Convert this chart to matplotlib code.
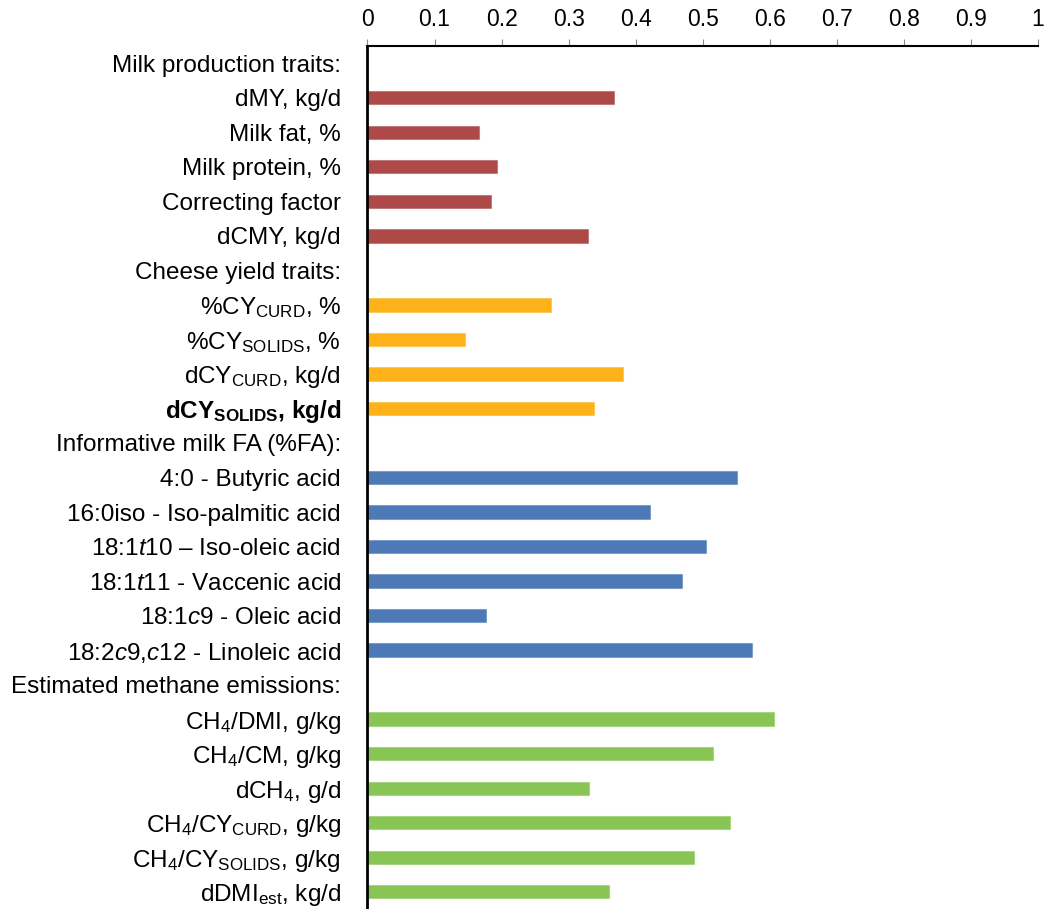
import numpy as np
import matplotlib
matplotlib.use("Agg")
import matplotlib.pyplot as plt

plt.rcParams["font.family"] = ["Liberation Sans", "DejaVu Sans"]
plt.rcParams["mathtext.fontset"] = "custom"
plt.rcParams["mathtext.rm"] = "Liberation Sans"
plt.rcParams["mathtext.it"] = "Liberation Sans:italic"
plt.rcParams["mathtext.bf"] = "Liberation Sans:bold"

# group headers and their traits (top to bottom)
milk_header = "Milk production traits:"
milk_labels = ["dMY, kg/d", "Milk fat, %", "Milk protein, %",
               "Correcting factor", "dCMY, kg/d"]
milk_values = [0.367, 0.166, 0.193, 0.184, 0.329]

cheese_header = "Cheese yield traits:"
cheese_labels = [r"%CY$_{\mathregular{CURD}}$, %",
                 r"%CY$_{\mathregular{SOLIDS}}$, %",
                 r"dCY$_{\mathregular{CURD}}$, kg/d",
                 r"dCY$_{\mathbf{SOLIDS}}$, kg/d"]
cheese_values = [0.274, 0.145, 0.381, 0.338]

fa_header = "Informative milk FA (%FA):"
fa_labels = ["4:0 - Butyric acid",
             "16:0iso - Iso-palmitic acid",
             r"18:1$\mathit{t}$10 – Iso-oleic acid",
             r"18:1$\mathit{t}$11 - Vaccenic acid",
             r"18:1$\mathit{c}$9 - Oleic acid",
             r"18:2$\mathit{c}$9,$\mathit{c}$12 - Linoleic acid"]
fa_values = [0.551, 0.422, 0.505, 0.469, 0.177, 0.573]

ch4_header = "Estimated methane emissions:"
ch4_labels = [r"CH$_{\mathregular{4}}$/DMI, g/kg",
              r"CH$_{\mathregular{4}}$/CM, g/kg",
              r"dCH$_{\mathregular{4}}$, g/d",
              r"CH$_{\mathregular{4}}$/CY$_{\mathregular{CURD}}$, g/kg",
              r"CH$_{\mathregular{4}}$/CY$_{\mathregular{SOLIDS}}$, g/kg",
              r"dDMI$_{\mathregular{est}}$, kg/d"]
ch4_values = [0.607, 0.515, 0.331, 0.540, 0.487, 0.360]

x_ticks = [0, 0.1, 0.2, 0.3, 0.4, 0.5, 0.6, 0.7, 0.8, 0.9, 1]

groups = [
    (milk_header, milk_labels, milk_values, "#ad4a48"),
    (cheese_header, cheese_labels, cheese_values, "#fdb21a"),
    (fa_header, fa_labels, fa_values, "#4d7ab6"),
    (ch4_header, ch4_labels, ch4_values, "#88c554"),
]

fig = plt.figure(figsize=(10.44, 9.09), dpi=100)
ax = fig.add_axes([367.5 / 1044, 0.0, (1038 - 367.5) / 1044, (909 - 46) / 909])

labels = []
pos = 0
for header, names, vals, color in groups:
    labels.append(header)
    pos += 1
    ys = np.arange(pos, pos + len(vals))
    ax.barh(ys, vals, height=0.385, color=color,
            edgecolor=matplotlib.colors.to_rgba(color, 0.45), linewidth=0.8)
    labels.extend(names)
    pos += len(vals)

ax.set_yticks(np.arange(len(labels)))
ax.set_yticklabels(labels, fontsize=17.5)
for tl in ax.get_yticklabels():
    if "SOLIDS}}$, kg/d" in tl.get_text() and "dCY" in tl.get_text():
        tl.set_fontweight("bold")
ax.set_ylim(len(labels) - 0.5, -0.5)
ax.tick_params(axis="y", length=0, pad=19)

ax.set_xlim(0, 1)
ax.set_xticks(x_ticks)
ax.set_xticklabels([f"{t:g}" for t in x_ticks])
ax.xaxis.tick_top()
ax.tick_params(axis="x", direction="out", length=5, width=0.8,
               color="#888888", labelsize=16.5, pad=6)

ax.spines["right"].set_visible(False)
ax.spines["bottom"].set_visible(False)
ax.spines["top"].set_linewidth(1.5)
ax.spines["left"].set_linewidth(2)

fig.savefig("out.png", dpi=100)
